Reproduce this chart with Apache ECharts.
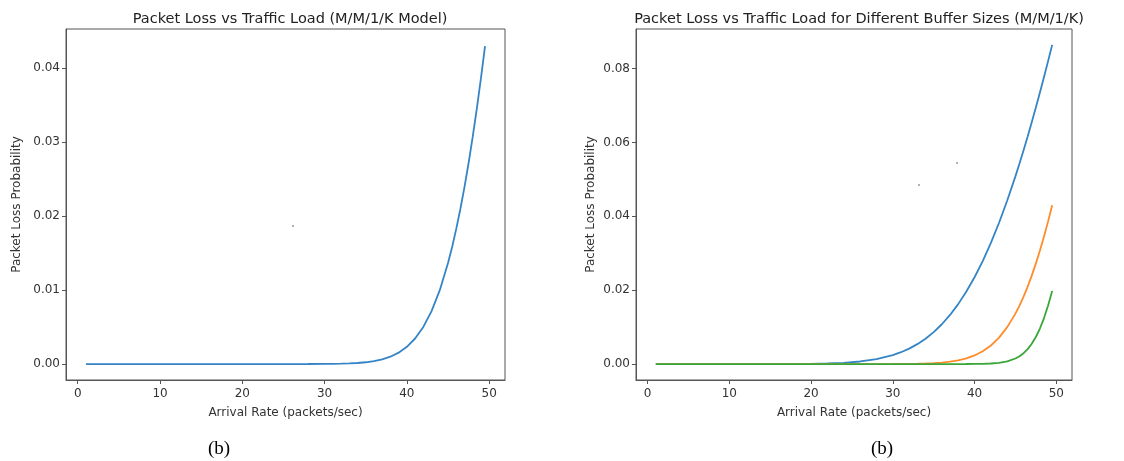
<!DOCTYPE html>
<html>
<head>
<meta charset="utf-8">
<script src="https://cdn.jsdelivr.net/npm/echarts@6/dist/echarts.min.js"></script>
<style>
  html, body { margin: 0; padding: 0; background: #fff; }
  #chart { width: 1124px; height: 461px; }
</style>
</head>
<body>
<div id="chart"></div>
<script>
// arrival rate samples (packets/sec)
const arrivalRate = [1, 5, 10, 15, 20, 22, 24, 26, 28, 30, 31, 32, 33, 34, 35, 36, 37, 38, 39, 40,
  41, 42, 43, 44, 45, 45.5, 46, 46.5, 47, 47.5, 48, 48.5, 49, 49.5]

// loss probability
const lossK10 = [0, 0, 0.0000001, 0.000004, 0.000063, 0.000152, 0.000338, 0.000695, 0.001336, 0.002428,
  0.003205, 0.004181, 0.005387, 0.006864, 0.008645, 0.01077, 0.01329, 0.01622, 0.01962, 0.02349,
  0.02788, 0.0328, 0.03826, 0.04427, 0.05081, 0.05428, 0.05789, 0.06161, 0.06546, 0.06943,
  0.07351, 0.0777, 0.08201, 0.08641]
const lossK20 = [0, 0, 0, 0, 0, 0, 0.0000002, 0.000001, 0.000004, 0.0000146,
  0.000027, 0.000048, 0.000084, 0.000143, 0.00024, 0.000392, 0.000632, 0.000994, 0.001537, 0.002327,
  0.003454, 0.00502, 0.00716, 0.00999, 0.01365, 0.01583, 0.01827, 0.02096, 0.02393, 0.02718,
  0.03071, 0.03453, 0.03862, 0.04299]
const lossK40 = [0, 0, 0, 0, 0, 0, 0, 0, 0, 0,
  0, 0, 0, 0, 0, 0, 0.0000015, 0.000004, 0.0000106, 0.0000266,
  0.000064, 0.00015, 0.000336, 0.000726, 0.001498, 0.002114, 0.002946, 0.004047, 0.005484, 0.00732,
  0.009618, 0.01244, 0.01583, 0.01981]

const xTicks = [0, 10, 20, 30, 40, 50]
const yTicksLeft = [0, 0.01, 0.02, 0.03, 0.04]
const yTicksRight = [0, 0.02, 0.04, 0.06, 0.08]

const pairs = ys => arrivalRate.map((x, i) => [x, ys[i]])

const font = 'DejaVu Sans'
const axisColor = '#555'
const labelColor = '#333'

function xAxisFor(grid) {
  return {
    type: 'value', gridIndex: grid,
    min: -1.425, max: 51.925,
    name: 'Arrival Rate (packets/sec)', nameLocation: 'middle', nameGap: 27,
    nameTextStyle: { fontFamily: font, fontSize: 12, color: labelColor },
    axisLine: { show: true, onZero: false, lineStyle: { color: axisColor } },
    axisTick: { show: true, length: 4, customValues: xTicks, lineStyle: { color: axisColor } },
    axisLabel: { customValues: xTicks, fontFamily: font, fontSize: 12, color: labelColor, margin: 8 },
    splitLine: { show: false }
  }
}

function yAxisFor(grid, max, ticks, gap) {
  return {
    type: 'value', gridIndex: grid,
    min: -max / 21, max: max,
    name: 'Packet Loss Probability', nameLocation: 'middle', nameGap: gap,
    nameTextStyle: { fontFamily: font, fontSize: 12, color: labelColor },
    axisLine: { show: true, onZero: false, lineStyle: { color: axisColor } },
    axisTick: { show: true, length: 4, customValues: ticks, lineStyle: { color: axisColor } },
    axisLabel: {
      customValues: ticks, fontFamily: font, fontSize: 12, color: labelColor, margin: 6,
      formatter: v => v.toFixed(2)
    },
    splitLine: { show: false }
  }
}

function line(grid, ys, color) {
  return {
    type: 'line', xAxisIndex: grid, yAxisIndex: grid,
    data: pairs(ys), showSymbol: false, smooth: false,
    lineStyle: { color: color, width: 1.8 }, itemStyle: { color: color },
    animation: false
  }
}

const titleStyle = { fontFamily: font, fontSize: 14.5, fontWeight: 'normal', color: '#222' }
const captionStyle = { fontFamily: 'Liberation Serif', fontSize: 19, fontWeight: 'normal', color: '#000' }

const chart = echarts.init(document.getElementById('chart'))
chart.setOption({
  backgroundColor: '#fff',
  title: [
    { text: 'Packet Loss vs Traffic Load (M/M/1/K Model)', left: 285, top: 7, textAlign: 'center', textStyle: titleStyle },
    { text: 'Packet Loss vs Traffic Load for Different Buffer Sizes (M/M/1/K)', left: 854, top: 7, textAlign: 'center', textStyle: titleStyle },
    { text: '(b)', left: 214, top: 435, textAlign: 'center', textStyle: captionStyle },
    { text: '(b)', left: 877, top: 435, textAlign: 'center', textStyle: captionStyle }
  ],
  grid: [
    { left: 66, top: 29, width: 439, height: 351, show: true, borderColor: axisColor, borderWidth: 1 },
    { left: 636, top: 29, width: 436, height: 351, show: true, borderColor: axisColor, borderWidth: 1 }
  ],
  xAxis: [xAxisFor(0), xAxisFor(1)],
  yAxis: [yAxisFor(0, 0.0453, yTicksLeft, 43), yAxisFor(1, 0.0907, yTicksRight, 39)],
  // small specks present in the scanned figure
  graphic: [
    { type: 'circle', shape: { cx: 293, cy: 226, r: 1 }, style: { fill: '#999' } },
    { type: 'circle', shape: { cx: 919, cy: 185, r: 1 }, style: { fill: '#999' } },
    { type: 'circle', shape: { cx: 957, cy: 163, r: 1 }, style: { fill: '#999' } }
  ],
  series: [
    line(0, lossK20, '#3585c6'),
    line(1, lossK10, '#3585c6'),
    line(1, lossK20, '#ff8c2a'),
    line(1, lossK40, '#3aa63a')
  ]
})
</script>
</body>
</html>
